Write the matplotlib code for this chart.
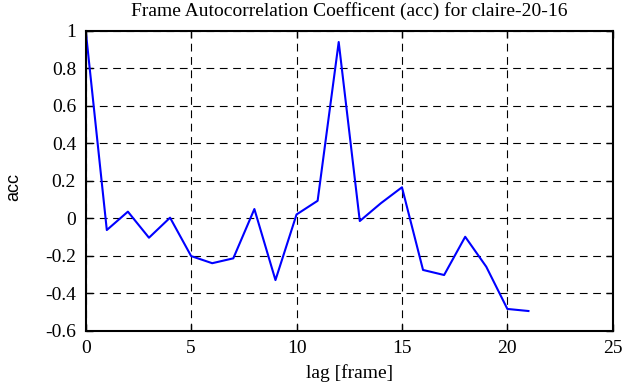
import matplotlib
matplotlib.use("Agg")
import matplotlib.pyplot as plt

lag = list(range(22))
acc = [1.0, -0.063, 0.035, -0.104, 0.003, -0.202, -0.24, -0.214, 0.049, -0.33,
       0.02, 0.093, 0.94, -0.015, 0.08, 0.165, -0.276, -0.303, -0.099, -0.259,
       -0.484, -0.495]
xticks = [0, 5, 10, 15, 20, 25]
yticks = [-0.6, -0.4, -0.2, 0, 0.2, 0.4, 0.6, 0.8, 1]
ytick_labels = ["-0.6", "-0.4", "-0.2", "0", "0.2", "0.4", "0.6", "0.8", "1"]

plt.rcParams["font.family"] = ["Liberation Serif", "DejaVu Serif"]

fig = plt.figure(figsize=(6.35, 3.87), dpi=100)
ax = fig.add_axes([0.135, 0.1455, 0.83, 0.775])

ax.plot(lag, acc, color="#0000ff", linewidth=1.5)

ax.set_xlim(0, 25)
ax.set_ylim(-0.6, 1)
ax.set_xticks(xticks)
ax.set_yticks(yticks)
ax.set_yticklabels(ytick_labels)
ax.grid(True, color="black", linestyle=(0, (7, 5)), linewidth=0.8)
ax.tick_params(direction="in", top=True, right=True, length=5, width=1,
               labelsize=14)
ax.tick_params(axis="x", pad=7)
ax.tick_params(axis="y", pad=7)
for s in ax.spines.values():
    s.set_linewidth(1.5)

ax.set_title("Frame Autocorrelation Coefficent (acc) for claire-20-16",
             fontsize=14, pad=11)
ax.set_xlabel("lag [frame]", fontsize=14, labelpad=5)
ax.set_ylabel("acc", fontsize=13, family=["Liberation Sans", "DejaVu Sans"])
ax.yaxis.set_label_coords(-0.12, 0.48)

fig.savefig("out.png", dpi=100)
